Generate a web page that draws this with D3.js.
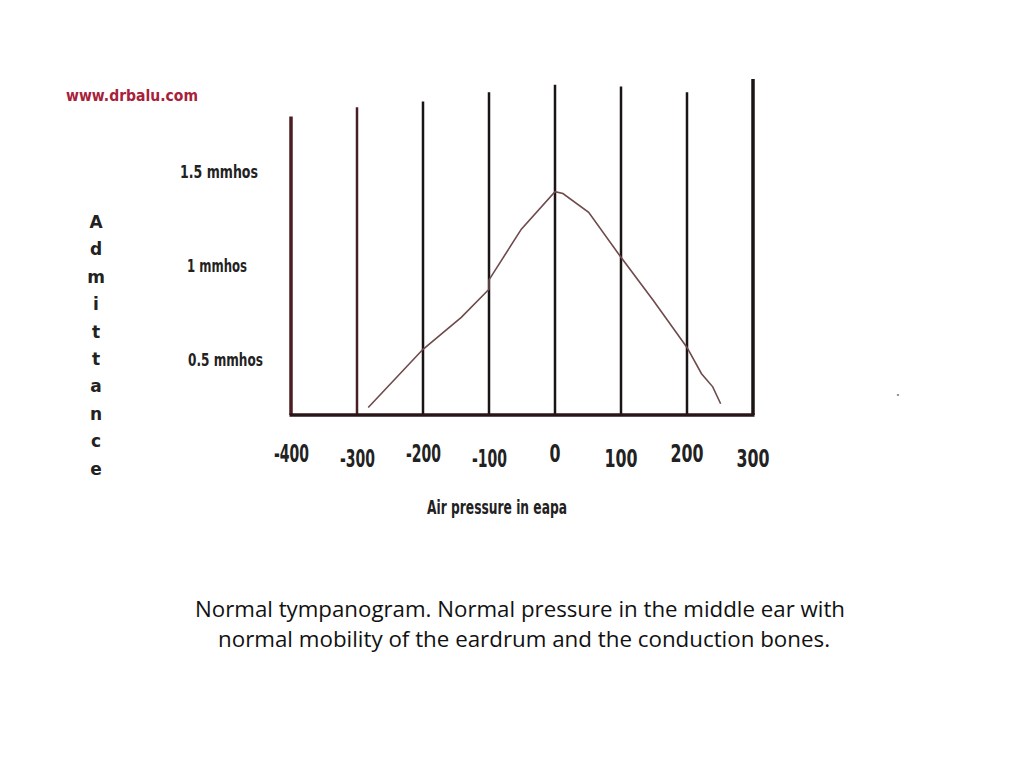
<!DOCTYPE html>
<html>
<head>
<meta charset="utf-8">
<script src="https://cdn.jsdelivr.net/npm/d3@7"></script>
<style>
  body { margin: 0; background: #fff; }
  text { font-family: "DejaVu Sans", sans-serif; font-weight: bold; }
  .caption { font-family: "Open Sans", sans-serif; font-weight: normal; fill: #111; }
</style>
</head>
<body>
<div id="viz"></div>
<script>
// pressure ticks (daPa) and admittance labels (mmhos)
var pressureTicks = [-400, -300, -200, -100, 0, 100, 200, 300];
var admitTicks = [0.5, 1, 1.5];
var admitLabels = ["0.5 mmhos", "1 mmhos", "1.5 mmhos"];

// tympanogram curve
var curvePressure = [-283, -200, -142, -100, -100, -51, 0, 12, 51, 100, 149, 200, 222, 239, 251];
var curveAdmit    = [0.24, 0.55, 0.72, 0.87, 0.92, 1.19, 1.39, 1.38, 1.28, 1.04, 0.81, 0.56, 0.42, 0.35, 0.26];

// hand drawn grid lines reach up to different heights (mmhos)
var gridTop = [1.79, 1.84, 1.87, 1.92, 1.96, 1.95, 1.92, 1.99];

var svg = d3.select("#viz")
	.append("svg")
	.attr("width", 1024)
	.attr("height", 768);

var x = d3.scaleLinear().domain([-400, 300]).range([291, 753]);
var y = d3.scaleLinear().domain([0.2, 1.5]).range([415, 171]);

// squeeze a label into the width it has in the picture
function fit(sel, w) {
  sel.attr("textLength", w).attr("lengthAdjust", "spacingAndGlyphs");
}

svg.append("text")
  .attr("x", 66).attr("y", 101)
  .style("font-size", "16px")
  .style("fill", "#a8203a")
  .text("www.drbalu.com")
  .call(fit, 132);

// vertical lines
svg.selectAll("line.grid").data(pressureTicks).enter()
  .append("line")
  .attr("class", "grid")
  .attr("x1", function(d) {return x(d);})
  .attr("x2", function(d) {return x(d);})
  .attr("y1", y(0.2))
  .attr("y2", function(d, i) {return y(gridTop[i]);})
  .style("stroke", function(d, i) {return i < 2 ? "#4a1e22" : "#1a1414";})
  .style("stroke-width", function(d, i) {return (i == 0 || i == 7) ? 3.5 : 2.5;});

// baseline
svg.append("line")
  .attr("x1", x(-400) - 1.5).attr("x2", x(300) + 1.5)
  .attr("y1", y(0.2)).attr("y2", y(0.2))
  .style("stroke", "#2a1618")
  .style("stroke-width", 3.5);

// curve
var pts = curvePressure.map(function(p, i) {return [p, curveAdmit[i]];});
svg.append("path")
  .datum(pts)
  .attr("d", d3.line().x(function(d) {return x(d[0]);}).y(function(d) {return y(d[1]);}))
  .style("fill", "none")
  .style("stroke", "#6e4a4c")
  .style("stroke-width", 1.6);

// x tick labels
svg.selectAll("text.xt").data(pressureTicks).enter()
  .append("text")
  .attr("class", "xt")
  .attr("x", function(d) {return x(d) - (d < 0 ? 17 : String(d).length * 5.5);})
  .attr("y", function(d, i) {return i % 2 ? 467 : 462;})
  .style("font-size", "24px")
  .style("fill", "#222")
  .text(function(d) {return d;})
  .each(function(d) {
    var n = String(d).length;
    d3.select(this).call(fit, d < 0 ? 35 : n * 11);
  });

// y labels
svg.selectAll("text.yt").data(admitTicks).enter()
  .append("text")
  .attr("class", "yt")
  .attr("x", function(d, i) {return [188, 187, 180][i];})
  .attr("y", function(d) {return y(d) + 7;})
  .style("font-size", "18px")
  .style("fill", "#222")
  .text(function(d, i) {return admitLabels[i];})
  .each(function(d, i) {
    d3.select(this).call(fit, [75, 60, 78][i]);
  });

// vertical axis title, one letter under the other
var title = "Admittance".split("");
svg.selectAll("text.yl").data(title).enter()
  .append("text")
  .attr("class", "yl")
  .attr("x", 96)
  .attr("y", function(d, i) {return 228 + i * 27.4;})
  .attr("text-anchor", "middle")
  .style("font-size", "17px")
  .style("fill", "#222")
  .text(function(d) {return d;});

svg.append("text")
  .attr("x", 427).attr("y", 514)
  .style("font-size", "19px")
  .style("fill", "#222")
  .text("Air pressure in eapa")
  .call(fit, 140);

svg.append("text")
  .attr("x", 896).attr("y", 396)
  .style("font-size", "10px")
  .style("fill", "#888")
  .text(".");

// caption
var caption = ["Normal tympanogram. Normal pressure in the middle ear with",
               "normal mobility of the eardrum and the conduction bones."];
var capWidth = [650, 612];
svg.selectAll("text.caption").data(caption).enter()
  .append("text")
  .attr("class", "caption")
  .attr("x", function(d, i) {return [195, 218][i];})
  .attr("y", function(d, i) {return 617 + i * 30;})
  .style("font-size", "21px")
  .text(function(d) {return d;})
  .each(function(d, i) {
    d3.select(this).call(fit, capWidth[i]);
  });
</script>
</body>
</html>
